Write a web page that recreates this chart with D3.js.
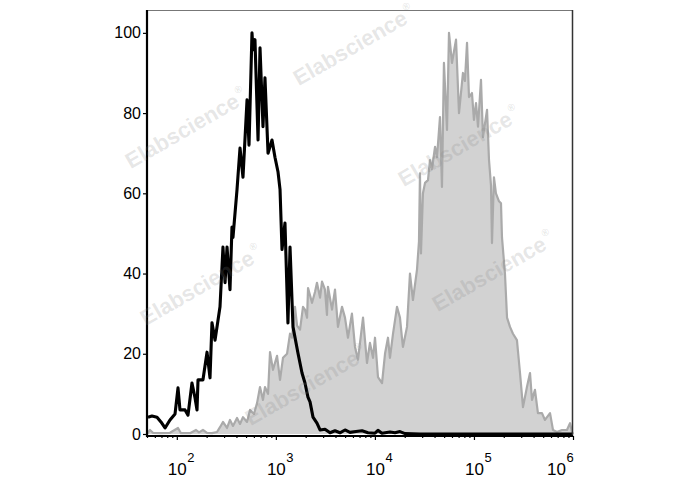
<!DOCTYPE html>
<html><head><meta charset="utf-8">
<script src="https://cdn.jsdelivr.net/npm/d3@7"></script>
<style>body{margin:0;background:#fff}svg{display:block}</style>
</head><body><svg id="c" width="688" height="490"></svg>
<script>
// log10 of fluorescence intensity, and event counts (% of max)
const blackLogX = [1.709,1.749,1.800,1.840,1.881,1.931,1.982,2.012,2.032,2.083,2.113,2.153,2.184,2.204,2.214,2.264,2.305,2.335,2.355,2.386,2.436,2.466,2.487,2.507,2.537,2.557,2.567,2.608,2.638,2.668,2.709,2.729,2.759,2.769,2.789,2.820,2.840,2.870,2.890,2.921,2.961,2.991,3.022,3.042,3.062,3.092,3.122,3.143,3.173,3.223,3.264,3.294,3.324,3.345,3.375,3.415,3.446,3.496,3.547,3.597,3.647,3.698,3.748,3.809,3.870,3.930,4.001,4.031,4.071,4.152,4.203,4.253,4.304,4.455,6.000];
const blackCount = [4.2,4.5,4.2,3.0,1.5,3.5,5.0,11.5,6.0,6.0,4.7,12.7,9.0,6.0,13.5,13.5,20.4,14.0,27.7,23.4,31.7,46.6,37.7,46.6,36.0,51.6,49.0,61.0,71.3,64.0,83.3,72.0,100,95.8,98.3,73.3,96.3,76.6,88.8,70.0,73.3,69.0,65.3,61.0,46.0,52.6,27.7,46.6,26.7,20.2,15.2,12.7,9.2,8.0,4.2,2.7,1.0,1.2,0.3,0.8,0.3,1.0,0.4,0.6,0.8,0.3,0.2,0.9,0.2,0.5,0.3,0.6,0.1,0,0];

const grayLogX = [1.699,1.729,1.759,1.830,1.931,2.012,2.042,2.133,2.194,2.224,2.264,2.305,2.355,2.406,2.436,2.466,2.507,2.537,2.567,2.608,2.638,2.668,2.709,2.739,2.779,2.810,2.840,2.870,2.890,2.921,2.941,2.971,3.012,3.042,3.072,3.113,3.143,3.163,3.193,3.214,3.244,3.274,3.294,3.315,3.325,3.365,3.395,3.415,3.446,3.466,3.496,3.516,3.526,3.567,3.597,3.627,3.668,3.698,3.728,3.768,3.799,3.829,3.880,3.920,3.950,3.981,4.001,4.031,4.072,4.102,4.132,4.152,4.183,4.223,4.253,4.273,4.283,4.324,4.354,4.384,4.425,4.445,4.455,4.465,4.485,4.506,4.536,4.556,4.576,4.607,4.627,4.657,4.677,4.697,4.728,4.748,4.778,4.819,4.849,4.889,4.909,4.930,4.950,4.980,5.000,5.021,5.041,5.071,5.091,5.132,5.152,5.172,5.182,5.202,5.222,5.253,5.273,5.283,5.313,5.334,5.364,5.394,5.434,5.465,5.495,5.535,5.566,5.586,5.616,5.646,5.687,5.717,5.768,5.798,5.838,5.889,5.939,5.970,5.990,6.000];
const grayCount = [0,1.0,0.3,0.2,0.3,1.5,0.2,0.2,1.0,0.4,1.0,0.3,0.2,0.5,1.7,3.0,1.5,3.5,2.0,4.0,2.5,4.2,3.0,6.0,5.0,7.7,11.7,8.5,11.7,10.0,20.4,16.0,19.5,13.5,19.0,20.0,25.0,24.0,31.7,27.0,26.0,31.7,31.0,29.0,36.4,32.7,35.4,37.7,34.0,38.0,36.0,29.7,36.7,31.0,36.0,26.7,31.7,29.0,24.0,30.0,21.7,18.5,29.0,17.7,22.7,19.0,24.0,14.2,12.7,20.0,24.0,19.0,25.0,31.7,29.0,24.0,21.7,26.7,40.0,33.4,41.0,48.0,65.0,45.0,60.0,62.6,63.3,68.3,66.0,71.6,69.0,79.0,61.6,92.5,75.8,100,92.5,98.3,80.0,90.0,88.0,97.5,84.0,85.0,78.3,82.5,76.6,88.3,74.0,80.8,68.3,62.0,47.6,64.0,60.0,58.0,57.5,49.0,40.0,29.0,26.7,25.0,23.4,15.2,6.7,11.7,15.2,8.5,11.0,5.2,5.2,3.5,5.2,1.0,0.5,1.0,1.0,2.7,0.5,0];

const yTickValues = [0,20,40,60,80,100];
const xTickExponents = [2,3,4,5,6];
const watermarkWord = "Elabscience";
const watermarkCenters = [[358,52],[190,135],[463,153],[205,292],[497,278],[310,392]];

const svg = d3.select("#c");
const FONT = "Liberation Sans, Arial, sans-serif";
const x = d3.scaleLog().domain([50, 1e6]).range([147, 573]);
const y = d3.scaleLinear().domain([-0.75, 105.7]).range([437, 10]);

const toPts = (lx, c) => lx.map((v, i) => [Math.pow(10, v), c[i]]);
const grayPts = toPts(grayLogX, grayCount);
const blackPts = toPts(blackLogX, blackCount);

// gray filled histogram
svg.append("path").datum(grayPts)
  .attr("d", d3.area().x(d => x(d[0])).y0(y(0)).y1(d => y(d[1])))
  .attr("fill", "#d2d2d2");
svg.append("path").datum(grayPts)
  .attr("d", d3.line().x(d => x(d[0])).y(d => y(d[1])))
  .attr("fill", "none").attr("stroke", "#aaaaaa").attr("stroke-width", 2.2).attr("stroke-linejoin", "round");

// black control histogram
svg.append("path").datum(blackPts)
  .attr("d", d3.line().x(d => x(d[0])).y(d => y(d[1])))
  .attr("fill", "none").attr("stroke", "#000").attr("stroke-width", 3.1).attr("stroke-linejoin", "round");

// frame
svg.append("line").attr("x1", 147).attr("x2", 573).attr("y1", 10.5).attr("y2", 10.5).attr("stroke", "#777").attr("stroke-width", 1.2);
svg.append("line").attr("x1", 572.5).attr("x2", 572.5).attr("y1", 10).attr("y2", 437).attr("stroke", "#333").attr("stroke-width", 1.5);

// y axis
const yAx = svg.append("g").attr("transform", "translate(147,0)")
  .call(d3.axisLeft(y).tickValues(yTickValues).tickSize(4).tickPadding(2));
yAx.select(".domain").remove();
yAx.append("line").attr("x1", 0).attr("x2", 0).attr("y1", 10).attr("y2", 437).attr("stroke", "#000").attr("stroke-width", 2.2);
yAx.selectAll(".tick line").attr("stroke", "#000").attr("stroke-width", 1.2);
yAx.selectAll(".tick text").attr("font-family", FONT).attr("font-size", 16).attr("fill", "#000");

// x axis (major + minor ticks)
const majors = xTickExponents.map(e => Math.pow(10, e));
const minors = [];
for (let e = 1; e < 6; e++) for (let m = 2; m <= 9; m++) { const v = m * Math.pow(10, e); if (v >= 50 && v <= 1e6) minors.push(v); }
const xAxG = svg.append("g").attr("transform", "translate(0,436)");
xAxG.append("g").call(d3.axisBottom(x).tickValues(minors).tickSize(2).tickFormat("")).select(".domain").remove();
const xMaj = xAxG.append("g").call(d3.axisBottom(x).tickValues(majors).tickSize(4).tickFormat(""));
xMaj.select(".domain").remove();
xAxG.selectAll(".tick line").attr("stroke", "#000").attr("stroke-width", 1.2);
xAxG.append("line").attr("x1", 147).attr("x2", 573).attr("y1", 0).attr("y2", 0).attr("stroke", "#000").attr("stroke-width", 2.2);

xTickExponents.forEach((e, i) => {
  let cx = x(Math.pow(10, e)) + 0.5;
  if (i === xTickExponents.length - 1) cx -= 17;
  svg.append("text").attr("x", cx).attr("y", 475).attr("text-anchor", "middle")
    .attr("font-family", FONT).attr("font-size", 17).text("10");
  svg.append("text").attr("x", cx + 10).attr("y", 462).attr("text-anchor", "start")
    .attr("font-family", FONT).attr("font-size", 13).text(String(e));
});

// watermarks
watermarkCenters.forEach(([cx, cy]) => {
  const t = svg.append("text").attr("transform", `translate(${cx},${cy}) rotate(-30)`)
    .attr("text-anchor", "middle").attr("font-family", FONT).attr("font-weight", "bold")
    .attr("font-size", 22).attr("fill", "#808080").attr("fill-opacity", 0.2);
  t.append("tspan").text(watermarkWord);
  t.append("tspan").attr("font-size", 10).attr("dy", -12).attr("dx", 2).text("®");
});
</script></body></html>
